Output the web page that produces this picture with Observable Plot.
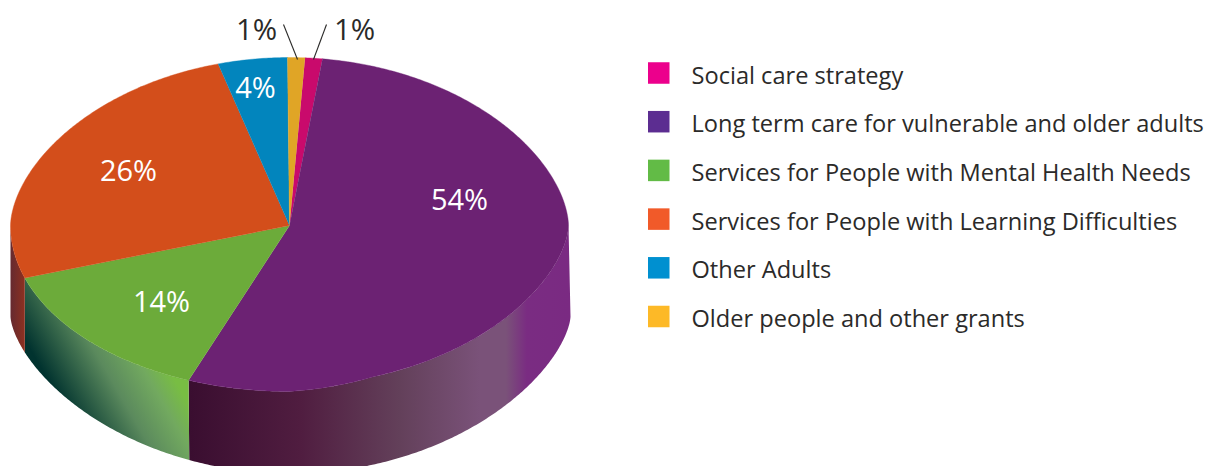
<!DOCTYPE html>
<html>
<head>
<meta charset="utf-8">
<style>
  html, body { margin: 0; padding: 0; background: #fff; }
  svg { display: block; }
</style>
<script src="https://cdn.jsdelivr.net/npm/d3@7"></script>
<script src="https://cdn.jsdelivr.net/npm/@observablehq/plot@0.6"></script>
</head>
<body>
<div id="chart"></div>
<script>
// Budget shares, clockwise from just right of twelve o'clock.
const categories = [
  "Social care strategy",
  "Long term care for vulnerable and older adults",
  "Services for People with Mental Health Needs",
  "Services for People with Learning Difficulties",
  "Other Adults",
  "Older people and other grants"
];
const shares = [1, 54, 14, 26, 4, 1];
const faceColors = ["#c90a6c", "#6c2273", "#6cab3a", "#d34e1b", "#0285bd", "#e0a526"];
const swatchColors = ["#ec008c", "#5c2d91", "#62bb46", "#f15a29", "#0090d0", "#fdb927"];

// Disc geometry in SVG units.
const W = 1206, H = 466;
const face = {cx: 289, cy: 225, rx: 279, ryUp: 168, ryDown: 166, powerUp: 1.15};
const base = {cx: 290, cy: 316, rx: 280, ry: 157, power: 1.28};
const startAngle = 3.2 * Math.PI / 180;
const LEFT = 1.5 * Math.PI, RIGHT = 0.5 * Math.PI;

const slices = d3.pie().sort(null).value((d) => d)
  .startAngle(startAngle).endAngle(startAngle + 2 * Math.PI)(shares);

// The rim is a slightly squared ellipse: flatter across the top and the lower right.
function rimPoint(a) {
  const c = Math.sin(a), s = -Math.cos(a);
  let y;
  if (s <= 0) {
    y = face.cy - face.ryUp * Math.pow(-s, face.powerUp);
  } else if (c > 0) {
    const w = Math.min(1, c / 0.3);
    y = face.cy + (face.ryDown - 6 * w) * Math.pow(s, 1 + 0.2 * w);
  } else {
    y = face.cy + face.ryDown * s;
  }
  return {x: face.cx + face.rx * c, y};
}
function basePoint(a) {
  const c = Math.sin(a), s = Math.max(0, -Math.cos(a));
  return {x: base.cx + base.rx * c, y: base.cy + base.ry * Math.pow(s, base.power)};
}
function sweep(a0, a1, f) {
  const n = Math.max(2, Math.ceil(Math.abs(a1 - a0) / 0.01));
  return d3.range(n + 1).map((i) => f(a0 + (a1 - a0) * i / n));
}
const facePath = (d) => [{x: face.cx, y: face.cy}, ...sweep(d.startAngle, d.endAngle, rimPoint)];
const wallPath = (a0, a1) => [...sweep(a0, a1, rimPoint), ...sweep(a1, a0, basePoint)];

// Shaded paint for the visible side wall, slice by slice.
function gradient(id, [x1, y1, x2, y2], stops) {
  return `<linearGradient id="${id}" gradientUnits="userSpaceOnUse" x1="${x1}" y1="${y1}" x2="${x2}" y2="${y2}">` +
    stops.map(([o, c]) => `<stop offset="${o}" stop-color="${c}"/>`).join("") + `</linearGradient>`;
}
const wallPaint = () => {
  const g = document.createElementNS("http://www.w3.org/2000/svg", "g");
  g.innerHTML = "<defs>" +
    gradient("wallPurple", [190, 0, 570, 0], [
      [0, "#3a0e30"], [0.29, "#501d40"], [0.55, "#63405a"], [0.76, "#7a5279"],
      [0.83, "#7a5279"], [0.885, "#7a2c82"], [1, "#7a2a82"]]) +
    gradient("wallGreen", [45, 375, 140, 320], [
      [0, "#01332f"], [0.5, "#5b8a5d"], [0.8, "#72a95f"], [1, "#78bd43"]]) +
    gradient("wallOrange", [10, 0, 24, 0], [[0, "#652a30"], [1, "#8c3020"]]) +
    "</defs>";
  return g;
};
const wallFill = {1: "url(#wallPurple)", 2: "url(#wallGreen)", 3: "url(#wallOrange)"};

const wallMarks = Object.keys(wallFill).map((k) => {
  const d = slices[k];
  const path = wallPath(Math.max(d.startAngle, RIGHT), Math.min(d.endAngle, LEFT));
  return Plot.line(path, {x: "x", y: "y", fill: wallFill[k], stroke: "none", curve: "linear"});
});
const faceMarks = slices.map((d, i) =>
  Plot.line(facePath(d), {x: "x", y: "y", fill: faceColors[i], stroke: faceColors[i], strokeWidth: 0.4, curve: "linear"})
);

// Percent labels, placed by hand around the disc.
const insideLabels = [
  {k: 1, dx: 170, dy: -25},
  {k: 2, dx: -128, dy: 77},
  {k: 3, dx: -161, dy: -54},
  {k: 4, dx: -34, dy: -137}
].map((p) => ({text: `${shares[p.k]}%`, x: face.cx + p.dx, y: face.cy + p.dy}));
const outsideLabels = [
  {k: 5, dx: -33, dy: -195},
  {k: 0, dx: 65, dy: -195}
].map((p) => ({text: `${shares[p.k]}%`, x: face.cx + p.dx, y: face.cy + p.dy}));
const leaders = [
  {x1: 283, y1: 24, x2: 297, y2: 59},
  {x1: 326, y1: 24, x2: 313, y2: 59}
];

// Legend rows.
const legendTop = 73, legendStep = 48.7, swatch = 21.5, swatchX = 648, legendTextX = 691;
const legend = categories.map((name, i) => ({
  name, color: swatchColors[i], y: legendTop + i * legendStep
}));

const chart = Plot.plot({
  width: W,
  height: H,
  margin: 0,
  x: {domain: [0, W], range: [0, W], axis: null},
  y: {domain: [0, H], range: [0, H], axis: null},
  style: {fontFamily: "'Open Sans', sans-serif", background: "#fff"},
  marks: [
    wallPaint,
    ...wallMarks,
    ...faceMarks,
    Plot.link(leaders, {x1: "x1", y1: "y1", x2: "x2", y2: "y2", stroke: "#2b2a29", strokeWidth: 1.1}),
    Plot.text(insideLabels, {x: "x", y: "y", text: "text", fill: "#fff", fontSize: 29, textAnchor: "middle"}),
    Plot.text(outsideLabels, {x: "x", y: "y", text: "text", fill: "#2b2a29", fontSize: 29.5, textAnchor: "middle"}),
    Plot.rect(legend, {
      x1: () => swatchX, x2: () => swatchX + swatch,
      y1: (d) => d.y - swatch / 2, y2: (d) => d.y + swatch / 2,
      fill: "color"
    }),
    Plot.text(legend, {x: () => legendTextX, y: (d) => d.y + 2.5, text: "name", fill: "#2b2a29", fontSize: 23.6, textAnchor: "start"})
  ]
});
document.getElementById("chart").append(chart);
</script>
</body>
</html>
